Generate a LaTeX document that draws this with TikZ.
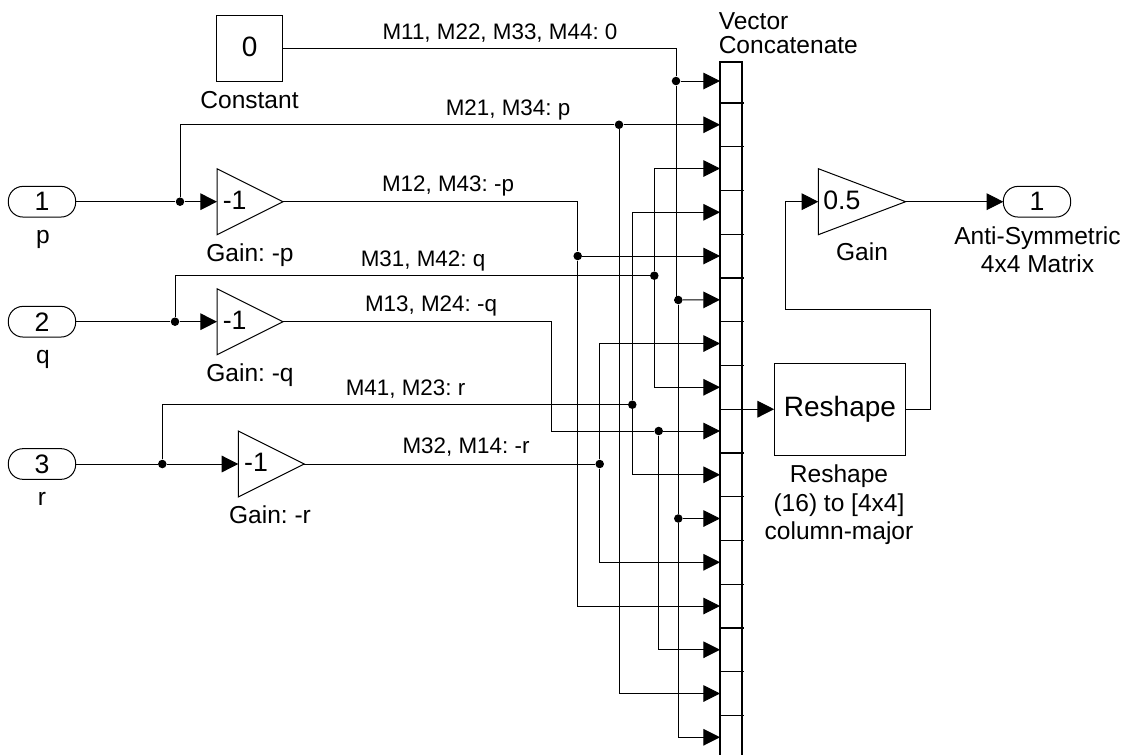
\documentclass[tikz,border=0pt]{standalone}
\usepackage{fontspec}
\setmainfont{Liberation Sans}
\usepackage{xcolor}
\usetikzlibrary{shapes,arrows.meta,positioning,calc}
\tikzset{
    wire/.style={line width=0.75pt},
    sig/.style={wire,-{Triangle[length=12.5pt,width=12.5pt]}},
    dot/.style={circle,fill=black,inner sep=0pt,minimum size=6.4pt},
    port/.style={draw,line width=0.75pt,rectangle,rounded corners=11pt,inner sep=0pt,outer sep=0pt,minimum width=50.5pt,minimum height=23pt,font=\fontsize{20}{24}\selectfont},
    gainblock/.style={draw,line width=0.75pt,isosceles triangle,isosceles triangle stretches=true,anchor=lower side,inner sep=0pt,outer sep=0pt,minimum width=49.5pt,minimum height=49.5pt,text height=14.5pt,text depth=3pt,font=\fontsize{20}{24}\selectfont},
    blockbox/.style={draw,line width=0.75pt,rectangle,inner sep=0pt,outer sep=0pt,font=\fontsize{21}{25}\selectfont},
    lbl/.style={font=\fontsize{18.4}{21.5}\selectfont,align=center,inner sep=0pt,anchor=base},
    wirelbl/.style={font=\fontsize{16.8}{20}\selectfont,inner sep=0pt,anchor=base},
}
\frenchspacing
\begin{document}
\begin{tikzpicture}[x=0.75pt,y=-0.75pt]
    \useasboundingbox (0,0) rectangle (1122,754);
    \node[port] (inp) at (42,201.7) {1};
    \node[port] (inq) at (42,321.7) {2};
    \node[port] (inr) at (42,464) {3};
    \node[gainblock] (gainp) at (217,201.7) {-1};
    \node[gainblock] (gainq) at (217,321.7) {-1};
    \node[gainblock] (gainr) at (238.3,464) {-1};
    \node[gainblock,minimum height=65.5pt] (halfgain) at (818.3,201.7) {0.5};
    \node[port] (outp) at (1037,201.7) {1};
    \node[blockbox,minimum width=49.5pt,minimum height=49.5pt,text depth=2.5pt] (const) at (249.7,48.2) {0};
    \node[blockbox,minimum width=98.8pt,minimum height=68.8pt] (reshape) at (840,409.2) {Reshape};
    \node[draw,line width=1pt,inner sep=0pt,outer sep=0pt,minimum width=16.5pt,minimum height=523.5pt] (vcat) at (731,411) {};
    \draw[line width=1.6pt] (vcat.north west) -- (vcat.south west);
    \foreach \i in {1,...,16}
        \coordinate (in\i) at (720,37.25+43.75*\i);
    \foreach \i in {1,...,15}
        \draw[line width=1pt] (720,59.3+43.75*\i) -- (744,59.3+43.75*\i);
    \node[lbl] (lblconst) at (249.5,108) {Constant};
    \node[lbl] (lblp) at (43,243) {p};
    \node[lbl] (lblq) at (43,363) {q};
    \node[lbl] (lblr) at (42,505) {r};
    \node[lbl] (lblgainp) at (250,261) {Gain: -p};
    \node[lbl] (lblgainq) at (250,381) {Gain: -q};
    \node[lbl] (lblgainr) at (270,523.3) {Gain: -r};
    \node[lbl] (lblgain) at (862,260.7) {Gain};
    \node[lbl,anchor=north] (lblout) at (1037.5,226) {Anti-Symmetric\\4x4 Matrix};
    \node[lbl,anchor=north] (lblreshape) at (839,464.5) {Reshape\\(16) to [4x4]\\column-major};
    \node[lbl,align=left,anchor=north west] (lblvcat) at (718.5,12) {Vector\\[-3.5pt]Concatenate};
    \node[wirelbl] (w1) at (500,39.5) {M11, M22, M33, M44: 0};
    \node[wirelbl] (w2) at (508,115) {M21, M34: p};
    \node[wirelbl] (w3) at (448,191.7) {M12, M43: -p};
    \node[wirelbl] (w4) at (423,266) {M31, M42: q};
    \node[wirelbl] (w5) at (431,311.7) {M13, M24: -q};
    \node[wirelbl] (w6) at (405.5,395) {M41, M23: r};
    \node[wirelbl] (w7) at (466,453) {M32, M14: -r};
    \node[dot] (jp) at (180,201.7) {};
    \node[dot] (jq) at (175,321.7) {};
    \node[dot] (jr) at (162.3,464) {};
    \node[dot] (jpb) at (619,124.75) {};
    \node[dot] (jqb) at (654.3,275.7) {};
    \node[dot] (jrb) at (632.3,404.7) {};
    \node[dot] (jmp) at (577.7,256) {};
    \node[dot] (jmq) at (658.7,431) {};
    \node[dot] (jmr) at (599.7,464) {};
    \node[dot] (jc1) at (676,81) {};
    \node[dot] (jc6) at (678.3,300) {};
    \node[dot] (jc11) at (678.3,518.5) {};
    \coordinate (cq) at (551.7,431);
    \coordinate (fb1) at (930,309);
    \coordinate (fb2) at (785.7,309);
    \draw[wire] (const.east) -| (jc1);
    \draw[sig] (jc1) -- (in1);
    \draw[wire] (jc1) |- (jc6);
    \draw[sig] (jc6) -- (in6);
    \draw[wire] (jc6) -- (jc11);
    \draw[sig] (jc11) -- (in11);
    \draw[sig] (jc11) |- (in16);
    \draw[wire] (inp.east) -- (jp);
    \draw[sig] (jp) -- (gainp.lower side);
    \draw[wire] (jp) |- (jpb);
    \draw[sig] (jpb) -- (in2);
    \draw[sig] (jpb) |- (in15);
    \draw[wire] (gainp.apex) -| (jmp);
    \draw[sig] (jmp) -- (in5);
    \draw[sig] (jmp) |- (in13);
    \draw[wire] (inq.east) -- (jq);
    \draw[sig] (jq) -- (gainq.lower side);
    \draw[wire] (jq) |- (jqb);
    \draw[sig] (jqb) |- (in3);
    \draw[sig] (jqb) |- (in8);
    \draw[wire] (gainq.apex) -| (cq) -- (jmq);
    \draw[sig] (jmq) -- (in9);
    \draw[sig] (jmq) |- (in14);
    \draw[wire] (inr.east) -- (jr);
    \draw[sig] (jr) -- (gainr.lower side);
    \draw[wire] (jr) |- (jrb);
    \draw[sig] (jrb) |- (in4);
    \draw[sig] (jrb) |- (in10);
    \draw[wire] (gainr.apex) -- (jmr);
    \draw[sig] (jmr) |- (in7);
    \draw[sig] (jmr) |- (in12);
    \draw[sig] (vcat.east |- reshape.west) -- (reshape.west);
    \draw[sig] (reshape.east) -| (fb1) -- (fb2) |- (halfgain.lower side);
    \draw[sig] (halfgain.apex) -- (outp.west);
\end{tikzpicture}
\end{document}
